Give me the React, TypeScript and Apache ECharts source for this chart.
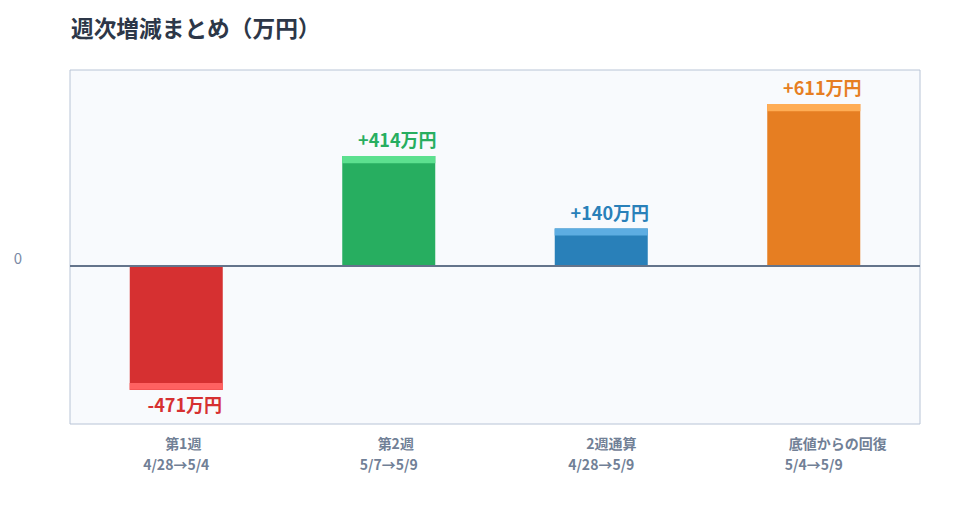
import React, { useEffect, useRef } from 'react';
import * as echarts from 'echarts';

const categories = ['第1週', '第2週', '2週通算', '底値からの回復'];
const periods = ['4/28→5/4', '5/7→5/9', '4/28→5/9', '5/4→5/9'];
const values = [-471, 414, 140, 611];
const barColors = ['#d63031', '#27ae60', '#2980b9', '#e67e22'];
const capColors = ['#ff6161', '#5ce08f', '#5dade2', '#ffad55'];
const labelColors = ['#d63031', '#27ae60', '#2980b9', '#e67e22'];
const yLabels = [0];

const FONT = '"Noto Sans CJK JP", "Liberation Sans", sans-serif';
const AXIS_COLOR = '#718096';

// first label lines sit a little right of centre, more so the longer the CJK run
const cjkCount = (s: string) => (s.match(/[^\x00-\x7f]/g) || []).length;

const App: React.FC = () => {
  const chartRef = useRef<HTMLDivElement>(null);

  useEffect(() => {
    document.body.style.margin = '0';
    if (!chartRef.current) return;
    const chart = echarts.init(chartRef.current, undefined, { renderer: 'svg' });

    const richX: Record<string, object> = {
      b: { fontSize: 14, fontWeight: 'bold', color: AXIS_COLOR, lineHeight: 21, fontFamily: FONT }
    };
    categories.forEach((c, i) => {
      richX['a' + i] = {
        fontSize: 14,
        fontWeight: 'bold',
        color: AXIS_COLOR,
        lineHeight: 21,
        fontFamily: FONT,
        padding: [0, 0, 0, Math.round(cjkCount(c) * 6.8)]
      };
    });

    const option = {
      animation: false,
      backgroundColor: '#ffffff',
      textStyle: { fontFamily: FONT },
      title: {
        text: '週次増減まとめ（万円）',
        left: 66,
        top: 11,
        textStyle: { fontSize: 22.7, fontWeight: 'bold', color: '#2d3748', fontFamily: FONT }
      },
      grid: {
        left: 70,
        right: 40,
        top: 70,
        bottom: 96,
        show: true,
        backgroundColor: '#f8fafd',
        borderColor: '#b8c4d6',
        borderWidth: 1
      },
      xAxis: {
        type: 'category',
        data: categories,
        axisLine: { show: false, onZero: false },
        axisTick: { show: false },
        axisLabel: {
          margin: 8,
          formatter: (val: string, idx: number) => `{a${idx}|${val}}\n{b|${periods[idx]}}`,
          rich: richX
        }
      },
      yAxis: {
        type: 'value',
        min: -600,
        max: 740,
        splitLine: { show: false },
        axisLine: { show: false },
        axisTick: { show: false },
        axisLabel: {
          customValues: yLabels,
          margin: 48,
          fontSize: 15,
          color: '#7a8aa6',
          fontFamily: FONT,
          verticalAlign: 'bottom'
        }
      },
      series: [
        {
          type: 'bar',
          barWidth: 93,
          z: 2,
          data: values.map((v, i) => ({
            value: v,
            itemStyle: { color: barColors[i] },
            label: {
              show: true,
              position: v >= 0 ? 'top' : 'bottom',
              distance: v >= 0 ? 8 : 5,
              formatter: () => `{v|${v > 0 ? '+' : ''}${v}万円}`,
              rich: {
                v: {
                  fontSize: 18,
                  fontWeight: 'bold',
                  color: labelColors[i],
                  fontFamily: FONT,
                  padding: [0, 0, 0, 17]
                }
              }
            }
          })),
          markLine: {
            silent: true,
            symbol: 'none',
            label: { show: false },
            lineStyle: { color: '#64748b', width: 2, type: 'solid' },
            data: [{ yAxis: 0 }]
          }
        },
        {
          type: 'pictorialBar',
          symbol: 'rect',
          symbolSize: [93, 7],
          symbolPosition: 'end',
          z: 3,
          silent: true,
          data: values.map((v, i) => ({
            value: v,
            itemStyle: { color: capColors[i] }
          }))
        }
      ]
    };

    chart.setOption(option);

    return () => {
      chart.dispose();
    };
  }, []);

  return <div ref={chartRef} style={{ width: 960, height: 520 }} />;
};

export default App;
